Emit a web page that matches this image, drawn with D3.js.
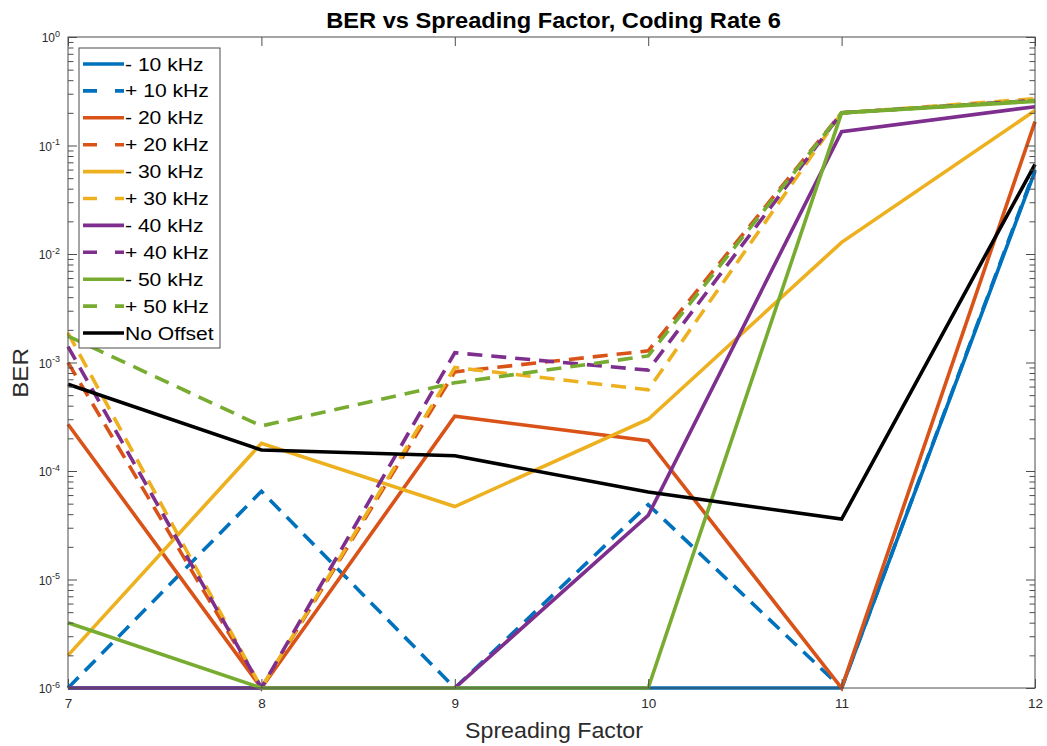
<!DOCTYPE html>
<html>
<head>
<meta charset="utf-8">
<script src="https://cdn.jsdelivr.net/npm/d3@7"></script>
<style>
  html, body { margin: 0; padding: 0; background: #fff; }
  svg { display: block; font-family: "Liberation Sans", Arial, Helvetica, sans-serif; }
</style>
</head>
<body>
<svg id="chart" width="1047" height="746"></svg>
<script>
// Spreading factors on the x axis
const spreadingFactors = [7, 8, 9, 10, 11, 12];

// BER per frequency offset, one value per spreading factor
const neg10 = [1e-6, 1e-6, 1e-6, 1e-6, 1e-6, 0.058];
const pos10 = [1e-6, 6.5e-5, 1e-6, 4.9e-5, 1e-6, 0.06];
const neg20 = [2.7e-4, 1e-6, 3.2e-4, 1.9e-4, 1e-6, 0.166];
const pos20 = [1.0e-3, 1e-6, 8.2e-4, 1.28e-3, 0.2, 0.26];
const neg30 = [2e-6, 1.8e-4, 4.7e-5, 3.0e-4, 0.0128, 0.21];
const pos30 = [1.87e-3, 1e-6, 9e-4, 5.6e-4, 0.2, 0.27];
const neg40 = [1e-6, 1e-6, 1e-6, 3.9e-5, 0.134, 0.228];
const pos40 = [1.4e-3, 1e-6, 1.23e-3, 8.5e-4, 0.2, 0.26];
const neg50 = [4e-6, 1e-6, 1e-6, 1e-6, 0.2, 0.255];
const pos50 = [1.75e-3, 2.6e-4, 6.5e-4, 1.15e-3, 0.2, 0.26];
const noOffset = [6.3e-4, 1.56e-4, 1.38e-4, 6.4e-5, 3.6e-5, 0.067];

const seriesNames = ["- 10 kHz", "+ 10 kHz", "- 20 kHz", "+ 20 kHz", "- 30 kHz",
                     "+ 30 kHz", "- 40 kHz", "+ 40 kHz", "- 50 kHz", "+ 50 kHz", "No Offset"];
const seriesValues = [neg10, pos10, neg20, pos20, neg30, pos30, neg40, pos40, neg50, pos50, noOffset];
const seriesColors = ["#0072BD", "#0072BD", "#D95319", "#D95319", "#EDB120",
                      "#EDB120", "#7E2F8E", "#7E2F8E", "#77AC30", "#77AC30", "#000000"];
const seriesDashed = [false, true, false, true, false, true, false, true, false, true, false];

const yTickExponents = [0, -1, -2, -3, -4, -5, -6];

const titleText = "BER vs Spreading Factor, Coding Rate 6";
const xLabelText = "Spreading Factor";
const yLabelText = "BER";

// Plot area
const plotLeft = 68, plotRight = 1035, plotTop = 37, plotBottom = 688;
const svg = d3.select("#chart");

const x = d3.scaleLinear().domain([7, 12]).range([plotLeft, plotRight]);
const y = d3.scaleLog().domain([1e-6, 1]).range([plotBottom, plotTop]);

const axisColor = "#2b2b2b";
const tickColor = "#4d4d4d";

// Text placed at (tx, ty) with a slightly widened glyph shape
function wideText(parent, tx, ty, sx, rotate) {
  const r = rotate ? ` rotate(${rotate})` : "";
  return parent.append("text")
    .attr("transform", `translate(${tx},${ty})${r} scale(${sx},1)`);
}

// Plot lines
const line = d3.line().x((d, i) => x(spreadingFactors[i])).y(d => y(d));
const lineGroup = svg.append("g");
seriesValues.forEach((vals, k) => {
  lineGroup.append("path")
    .datum(vals)
    .attr("d", line)
    .attr("fill", "none")
    .attr("stroke", seriesColors[k])
    .attr("stroke-width", 3.6)
    .attr("stroke-linejoin", "miter")
    .attr("stroke-dasharray", seriesDashed[k] ? "15,9" : null);
});

// Box outline
svg.append("rect")
  .attr("x", plotLeft).attr("y", plotTop)
  .attr("width", plotRight - plotLeft).attr("height", plotBottom - plotTop)
  .attr("fill", "none").attr("stroke", tickColor).attr("stroke-width", 1);

// X axis (bottom) with inward ticks
const xAxis = d3.axisBottom(x).tickValues(spreadingFactors).tickFormat(d3.format("d"))
  .tickSizeInner(-9).tickSizeOuter(0).tickPadding(10.5);
const gx = svg.append("g").attr("transform", `translate(0,${plotBottom})`).call(xAxis);
gx.select(".domain").remove();
gx.selectAll(".tick line").attr("stroke", tickColor);
gx.selectAll(".tick text").attr("fill", axisColor).attr("font-size", 13.5)
  .attr("font-family", "Liberation Sans, Arial, sans-serif");

// Top mirrored ticks
const gxt = svg.append("g").attr("transform", `translate(0,${plotTop})`)
  .call(d3.axisTop(x).tickValues(spreadingFactors).tickFormat("").tickSizeInner(-9).tickSizeOuter(0));
gxt.select(".domain").remove();
gxt.selectAll(".tick line").attr("stroke", tickColor);

// Y axis: major and minor log ticks on both sides
const majorTicks = yTickExponents.map(e => Math.pow(10, e));
const minorTicks = [];
for (let e = -6; e < 0; e++) {
  for (let m = 2; m <= 9; m++) minorTicks.push(m * Math.pow(10, e));
}
[[d3.axisLeft, plotLeft], [d3.axisRight, plotRight]].forEach(([axisFn, xpos]) => {
  const gMinor = svg.append("g").attr("transform", `translate(${xpos},0)`)
    .call(axisFn(y).tickValues(minorTicks).tickFormat("").tickSizeInner(-5.5).tickSizeOuter(0));
  gMinor.select(".domain").remove();
  gMinor.selectAll(".tick line").attr("stroke", tickColor);
  const gMajor = svg.append("g").attr("transform", `translate(${xpos},0)`)
    .call(axisFn(y).tickValues(majorTicks).tickFormat("").tickSizeInner(-9).tickSizeOuter(0));
  gMajor.select(".domain").remove();
  gMajor.selectAll(".tick line").attr("stroke", tickColor);
});

// Y tick labels as 10 with superscript exponent, right edge fixed near the axis
const yLabels = svg.append("g");
yTickExponents.forEach(e => {
  const t = yLabels.append("text")
    .attr("x", 0).attr("y", y(Math.pow(10, e)) + 5)
    .attr("fill", axisColor).attr("font-size", 12);
  t.append("tspan").text("10");
  t.append("tspan").attr("dy", -5.5).attr("font-size", 9).text(String(e));
});
yLabels.selectAll("text").each(function () {
  const bb = this.getBBox();
  d3.select(this).attr("x", plotLeft - 8 - bb.width);
});

// Title and axis labels
wideText(svg, (plotLeft + plotRight) / 2 + 2, 28, 1.1)
  .attr("text-anchor", "middle").attr("font-weight", "bold").attr("font-size", 21.5)
  .attr("fill", "#000").text(titleText);
wideText(svg, 554, 738, 1.055)
  .attr("text-anchor", "middle").attr("font-size", 22).attr("fill", axisColor).text(xLabelText);
wideText(svg, 28, 373, 1.1, -90)
  .attr("text-anchor", "middle").attr("font-size", 22).attr("fill", axisColor).text(yLabelText);

// Legend
const legX = 79, legY = 48, legW = 141, legH = 300, rowH = 26.9;
const legend = svg.append("g");
legend.append("rect").attr("x", legX).attr("y", legY).attr("width", legW).attr("height", legH)
  .attr("fill", "#fff").attr("stroke", tickColor).attr("stroke-width", 1);
seriesNames.forEach((name, k) => {
  const cy = legY + 16 + k * rowH;
  legend.append("line")
    .attr("x1", legX + 4).attr("x2", legX + 45).attr("y1", cy).attr("y2", cy)
    .attr("stroke", seriesColors[k]).attr("stroke-width", 3.6)
    .attr("stroke-dasharray", seriesDashed[k] ? "14,18" : null);
  wideText(legend, legX + 46, cy + 6.5, 1.14)
    .attr("font-size", 18.5).attr("fill", "#000").text(name);
});
</script>
</body>
</html>
